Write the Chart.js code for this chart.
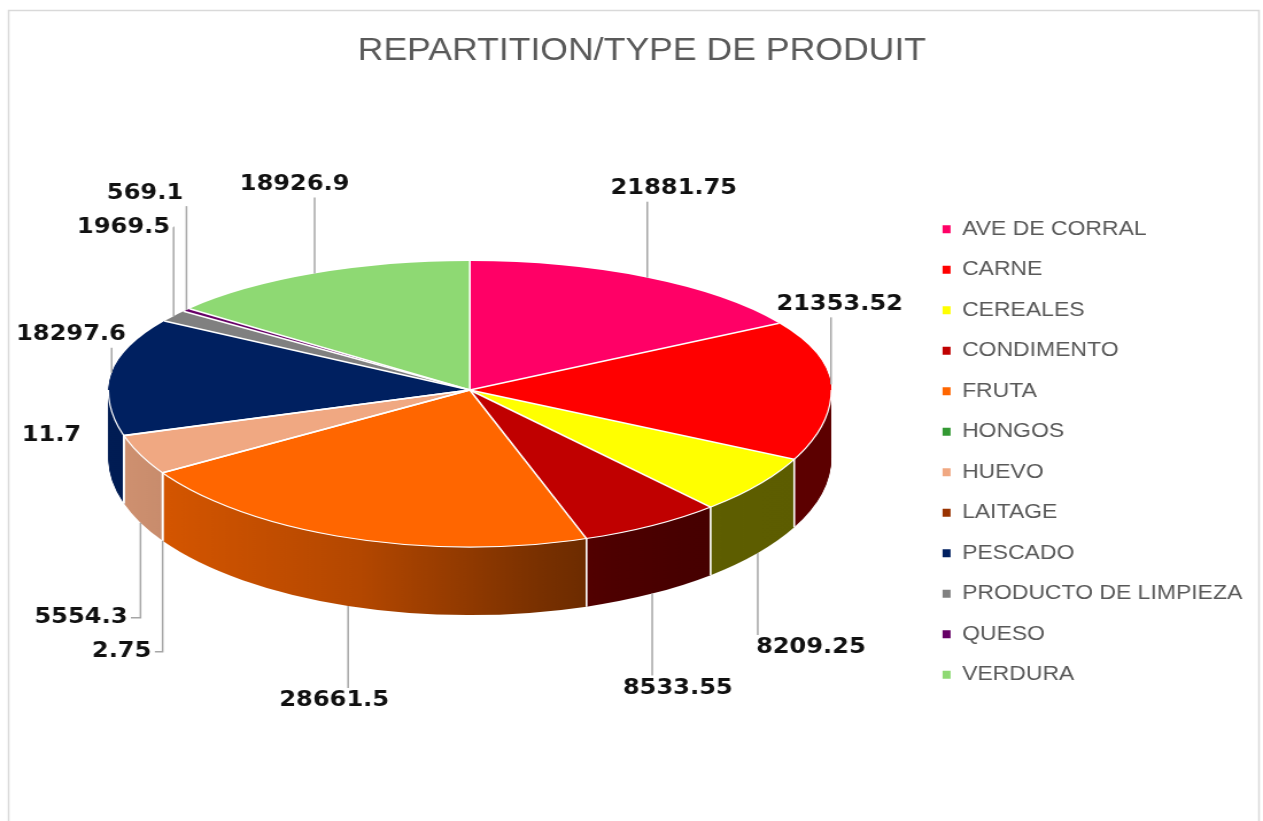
<!DOCTYPE html>
<html>
<head>
<meta charset="utf-8">
<title>REPARTITION/TYPE DE PRODUIT</title>
<script src="https://cdn.jsdelivr.net/npm/chart.js@4.4.1/dist/chart.umd.min.js"></script>
<style>
  html, body { margin: 0; padding: 0; background: #fff; overflow: hidden; }
</style>
</head>
<body>
<!-- drawn at 1100 wide and stretched to 1263, like the reference -->
<canvas id="myChart" width="1100" height="821" style="width:1263px;height:821px;display:block;"></canvas>
<script>
const chartTitle = "REPARTITION/TYPE DE PRODUIT";

const categories = [
  "AVE DE CORRAL", "CARNE", "CEREALES", "CONDIMENTO", "FRUTA", "HONGOS",
  "HUEVO", "LAITAGE", "PESCADO", "PRODUCTO DE LIMPIEZA", "QUESO", "VERDURA"
];

const values = [
  21881.75, 21353.52, 8209.25, 8533.55, 28661.5, 2.75,
  5554.3, 11.7, 18297.6, 1969.5, 569.1, 18926.9
];

const colors = [
  "#FF0066", "#FF0000", "#FFFF00", "#C00000", "#FF6600", "#339933",
  "#F0A882", "#993300", "#002060", "#808080", "#660066", "#8ED973"
];

function shadeColor(hex, f) {
  const n = parseInt(hex.slice(1), 16);
  const r = Math.round(((n >> 16) & 255) * f);
  const g = Math.round(((n >> 8) & 255) * f);
  const b = Math.round((n & 255) * f);
  return `rgb(${r}, ${g}, ${b})`;
}

// true if a point falls on the tilted pie (top face, side or bottom)
function onPie(g, x, y) {
  const dx = (x - g.cx) / (g.rx + 2);
  if (Math.abs(dx) >= 1) return false;
  const k = Math.sqrt(1 - dx * dx);
  return y > g.cy - (g.ryB + 6) * k && y < g.cy + g.depth + (g.ryF + 6) * k;
}

function boxHitsPie(g, b, h) {
  for (let t = 0; t <= 8; t++) {
    const x = b.x - b.w / 2 + (t * b.w) / 8;
    if (onPie(g, x, b.y - h / 2) || onPie(g, x, b.y) || onPie(g, x, b.y + h / 2)) return true;
  }
  return false;
}

// 3D look: squash the pie into an ellipse (front half a bit deeper, like
// a perspective view) and stack darker copies under it for the side
const pie3d = {
  id: "pie3d",
  beforeDraw(chart, args, opts) {
    const ctx = chart.ctx;
    ctx.save();
    ctx.strokeStyle = opts.frameColor;
    ctx.lineWidth = 1.5;
    ctx.strokeRect(7.5, 10.5, chart.width - 11, chart.height + 20);
    ctx.restore();
  },
  beforeDatasetDraw(chart, args, opts) {
    const ctx = chart.ctx;
    const arcs = args.meta.data;
    if (!arcs.length) return;
    const R = arcs[0].outerRadius;
    const ox = arcs[0].x;
    const oy = arcs[0].y;
    const cx = ox + opts.shiftX;
    const cy = Math.round(oy + opts.shiftY);
    const sx = opts.scaleX;

    const sideFills = arcs.map(el => {
      const grad = ctx.createLinearGradient(ox - R, 0, ox + R, 0);
      opts.shade.forEach(s => grad.addColorStop(s[0], shadeColor(el.options.backgroundColor, s[1])));
      return grad;
    });

    const drawHalf = (dy, fills, front) => {
      const sy = front ? opts.scaleYFront : opts.scaleYBack;
      ctx.save();
      ctx.beginPath();
      if (front) ctx.rect(0, cy + dy, chart.width, chart.height);
      else ctx.rect(0, 0, chart.width, cy + dy);
      ctx.clip();
      arcs.forEach((el, i) => {
        const orig = el.options;
        if (fills) el.options = Object.assign({}, orig, { backgroundColor: fills[i] });
        ctx.save();
        ctx.translate(cx, cy + dy);
        ctx.scale(sx, sy);
        ctx.translate(-ox, -oy);
        el.draw(ctx);
        ctx.restore();
        el.options = orig;
      });
      ctx.restore();
    };

    for (let d = opts.depth; d > 0; d--) {
      drawHalf(d, sideFills, false);
      drawHalf(d, sideFills, true);
    }
    drawHalf(0, null, false);
    drawHalf(0, null, true);

    const rx = R * sx;
    const ryB = R * opts.scaleYBack;
    const ryF = R * opts.scaleYFront;
    chart.$pie3d = { cx, cy, rx, ryB, ryF, depth: opts.depth };

    // white edges
    ctx.save();
    ctx.strokeStyle = "#fff";
    ctx.lineWidth = 1.2;
    ctx.beginPath();
    ctx.ellipse(cx, cy, rx, ryF, 0, 0, Math.PI);
    ctx.stroke();
    ctx.lineWidth = 1.6;
    arcs.forEach(el => {
      const a = el.startAngle;
      const s = Math.sin(a);
      const x = cx + rx * Math.cos(a);
      const y = cy + (s > 0 ? ryF : ryB) * s;
      ctx.beginPath();
      ctx.moveTo(cx, cy);
      ctx.lineTo(x, y);
      if (s > 0.001) ctx.lineTo(x, y + opts.depth);
      ctx.stroke();
    });
    ctx.restore();
    return false;
  }
};

// value labels with leader lines
const pieLabels = {
  id: "pieLabels",
  afterDraw(chart, args, opts) {
    const g = chart.$pie3d;
    if (!g) return;
    const ctx = chart.ctx;
    const area = chart.chartArea;
    const h = opts.textHeight;
    ctx.save();
    ctx.font = opts.font;

    const boxes = chart.getDatasetMeta(0).data.map((el, i) => {
      const mid = (el.startAngle + el.endAngle) / 2;
      const c = Math.cos(mid);
      const s = Math.sin(mid);
      const side = Math.abs(c) > opts.sideLimit;
      const dir = s > 0 ? 1 : -1;
      const ax = g.cx + g.rx * c;
      const ay = g.cy + (s > 0 ? g.ryF : g.ryB) * s + (s > 0 && !side ? g.depth : 0);
      const text = String(values[i]);
      const w = ctx.measureText(text).width;
      let x, y;
      if (side) {
        x = ax + c * (opts.sideReach + w / 2);
        y = ay;
      } else {
        x = ax + c * opts.reachX + c * Math.abs(c) * w / 2;
        y = ay + dir * ((dir > 0 ? opts.reachFront : opts.reachBack) + h / 2);
      }
      x = Math.min(Math.max(x, opts.minX + w / 2), area.right + opts.overhang - w / 2);
      const b = { text, ax, ay, x, y, w, dir, side };
      let n = 0;
      while (boxHitsPie(g, b, h) && n++ < 400) b.y += dir * 2;
      return b;
    });

    // push overlapping labels apart, away from the pie
    const gap = opts.gap;
    const overlap = (a, b) =>
      Math.abs(a.x - b.x) < (a.w + b.w) / 2 + gap && Math.abs(a.y - b.y) < h + gap;
    [-1, 1].forEach(dir => {
      const group = boxes.filter(b => b.dir === dir)
        .sort((p, q) => dir < 0 ? q.y - p.y : p.y - q.y);
      const placed = [];
      group.forEach(b => {
        let moved = true;
        let n = 0;
        while (moved && n++ < 50) {
          moved = false;
          placed.forEach(p => {
            if (overlap(b, p)) {
              b.y = p.y + dir * (h + gap);
              moved = true;
            }
          });
        }
        placed.push(b);
      });
    });

    ctx.strokeStyle = opts.lineColor;
    ctx.lineWidth = 1.5;
    boxes.forEach(b => {
      const l = b.x - b.w / 2 - 3;
      const r = b.x + b.w / 2 + 3;
      const t = b.y - h / 2 - 2;
      const bt = b.y + h / 2 + 2;
      ctx.beginPath();
      ctx.moveTo(b.ax, b.ay);
      if (b.ax >= l && b.ax <= r) {
        const ey = b.ay < t ? t : bt;
        if (Math.abs(ey - b.ay) < 8) return;
        ctx.lineTo(b.ax, ey);
      } else if (b.ay >= t && b.ay <= bt) {
        // label sits right beside its slice: no leader needed
        return;
      } else {
        ctx.lineTo(b.ax, b.y);
        ctx.lineTo(b.ax < l ? l : r, b.y);
      }
      ctx.stroke();
    });

    ctx.fillStyle = opts.color;
    ctx.textAlign = "center";
    ctx.textBaseline = "middle";
    boxes.forEach(b => ctx.fillText(b.text, b.x, b.y));
    ctx.restore();
  }
};

Chart.defaults.font.family = "'Liberation Sans', Arial, sans-serif";

let ctx = document.getElementById("myChart").getContext("2d");

let myChart = new Chart(ctx, {
  type: "pie",
  data: {
    labels: categories,
    datasets: [
      {
        data: values,
        backgroundColor: colors,
        borderWidth: 0,
        clip: false
      }
    ]
  },
  plugins: [pie3d, pieLabels],
  options: {
    responsive: false,
    animation: false,
    events: [],
    layout: {
      padding: { top: 23, left: 26, right: 8, bottom: 0 }
    },
    plugins: {
      title: {
        display: true,
        text: chartTitle,
        color: "#595959",
        font: { size: 31, weight: "normal" },
        padding: { top: 10, bottom: 10 }
      },
      legend: {
        position: "right",
        // empty title only used as top spacing for the column of items
        title: { display: true, text: "", padding: { top: 0, bottom: 45.6 } },
        labels: {
          boxWidth: 7,
          boxHeight: 8,
          padding: 20.5,
          color: "#595959",
          font: { size: 20 }
        }
      },
      tooltip: { enabled: false },
      pie3d: {
        scaleX: 0.85,
        scaleYBack: 0.348,
        scaleYFront: 0.424,
        depth: 68,
        shiftX: -4,
        shiftY: -61,
        frameColor: "#D9D9D9",
        shade: [[0, 0.87], [0.1, 0.82], [0.35, 0.7], [0.6, 0.47], [0.7, 0.4], [0.8, 0.37], [1, 0.36]]
      },
      pieLabels: {
        font: "bold 21px 'DejaVu Sans', sans-serif",
        color: "#111111",
        lineColor: "#A6A6A6",
        textHeight: 22,
        reachX: 20,
        reachFront: 84,
        reachBack: 78,
        sideLimit: 0.95,
        sideReach: 40,
        minX: 14,
        overhang: -14,
        gap: 12
      }
    }
  }
});
</script>
</body>
</html>
